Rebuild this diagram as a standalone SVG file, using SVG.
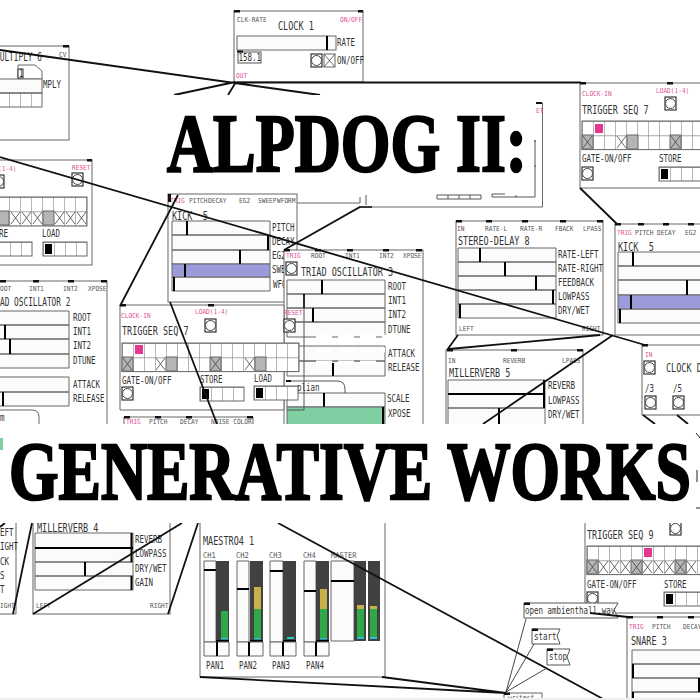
<svg xmlns="http://www.w3.org/2000/svg" width="700" height="700" viewBox="0 0 700 700">
<style>
text{font-family:"DejaVu Sans Mono","Liberation Mono",monospace;fill:#333;white-space:pre;transform-box:fill-box;transform-origin:0 50%}
.l{font-size:7px;fill:#555;transform:scaleX(.88)}
.p{font-size:7px;fill:#e0569a;transform:scaleX(.88)}
.a{font-size:10px;fill:#333;transform:scaleX(.75)}
.n{font-size:12px;fill:#333;transform:scaleX(.71)}
.nn{font-size:12px;fill:#333;transform:scaleX(.65)}
.box{fill:#fff;stroke:#666;stroke-width:1}
.s{fill:#fbfbfb;stroke:#666;stroke-width:1}
.h{fill:none;stroke:#000;stroke-width:2}
.io{fill:#111}
.c{fill:none;stroke:#111;stroke-width:1.8}
.x{fill:none;stroke:#444;stroke-width:.8}
.g{fill:#b5b5b5;stroke:#666}
.big{font-family:"Liberation Serif",serif;font-weight:bold;fill:#000;stroke:#000;stroke-width:2.4;transform:none}
</style>
<defs>
<g id="bang"><rect width="11" height="13" fill="#fff" stroke="#222" stroke-width="1.1"/><circle cx="5.5" cy="6.5" r="5" fill="#fff" stroke="#444"/></g>
<g id="tog"><rect width="11" height="13" fill="#fff" stroke="#666"/><path class="x" d="M0 0l11 13M11 0l-11 13"/></g>
<g id="xc"><path class="x" d="M1 1l9 12M10 1l-9 12"/></g>
<g id="gx"><rect width="11" height="14" class="g"/><path class="x" d="M1 1l9 12M10 1l-9 12"/></g>
<g id="gc"><rect width="11" height="14" class="g"/></g>
<pattern id="cells" width="11" height="14.3" patternUnits="userSpaceOnUse"><rect width="11" height="14.3" fill="#fff"/><path d="M0 0h11M0 0v14.3" fill="none" stroke="#888" stroke-width="1.2"/></pattern>
<g id="store"><rect width="44" height="14" fill="url(#cells)" stroke="#666"/><rect x="2" y="2" width="7" height="10" fill="#000"/></g>
</defs>

<g id="clock1">
<rect class="box" x="234" y="11" width="129" height="71"/>
<rect class="io" x="234" y="10" width="6" height="2.500"/><rect class="io" x="358" y="10" width="5" height="2.500"/>
<text class="l" x="237" y="22">CLK-RATE</text><text class="p" x="340" y="22">ON/OFF</text>
<text class="n" x="278" y="30">CLOCK 1</text>
<rect class="s" x="237" y="36" width="99" height="14"/><path class="h" d="M327 36v14"/>
<text class="a" x="337" y="46">RATE</text>
<rect x="238" y="52" width="23" height="11" fill="#fff" stroke="#555"/><rect class="io" x="237" y="50.500" width="6" height="2"/>
<text class="a" x="238.500" y="61">158.1</text>
<use href="#bang" x="311" y="54"/><use href="#tog" x="324" y="54"/>
<text class="a" x="337" y="64">ON/OFF</text>
<text class="p" x="236" y="78">OUT</text>
</g>

<g id="multiply6">
<rect class="box" x="-5" y="46" width="74" height="94"/>
<rect class="io" x="63" y="45" width="6" height="2.500"/>
<text class="nn" x="-5" y="61">MULTIPLY 6</text>
<text class="l" x="59" y="57">CV</text>
<path d="M18 65h17l7 6v8h-24z" fill="#fff" stroke="#666"/>
<rect x="18" y="69" width="5" height="9" fill="#fff" stroke="#333"/><text class="a" x="19" y="77">1</text>
<rect class="s" x="-5" y="79" width="47" height="14"/>
<text class="a" x="43" y="88">MPLY</text>
<g transform="translate(-2,93)"><rect width="44" height="14" fill="url(#cells)" stroke="#666"/></g>
</g>

<g id="triggerseq-left">
<rect class="box" x="-5" y="160" width="97" height="105"/>
<rect class="io" x="87" y="159" width="5" height="2.500"/>
<text class="p" x="-2" y="171">(1-4)</text><text class="p" x="72" y="170">RESET</text>
<use href="#bang" x="-7" y="175"/><use href="#bang" x="72" y="173"/>
<g transform="translate(-13,197)"><rect width="100" height="29" fill="url(#cells)" stroke="#666"/></g>
<use href="#gc" x="-2" y="211"/><use href="#xc" x="10" y="211"/><use href="#xc" x="21" y="211"/><use href="#xc" x="32" y="211"/>
<use href="#gc" x="43" y="211"/><use href="#xc" x="54" y="211"/><use href="#xc" x="65" y="211"/><use href="#xc" x="76" y="211"/>
<text class="a" x="-1" y="237">RE</text><text class="a" x="42" y="237">LOAD</text>
<use href="#store" x="-12" y="242"/><use href="#store" x="43" y="242"/>
</g>

<g id="triad2">
<rect class="box" x="-5" y="281" width="112" height="150"/>
<rect class="io" x="0" y="280" width="6" height="2.500"/><rect class="io" x="33" y="280" width="6" height="2.500"/><rect class="io" x="68" y="280" width="6" height="2.500"/><rect class="io" x="101" y="280" width="6" height="2.500"/>
<text class="l" x="0" y="291">OOT</text><text class="l" x="29" y="291">INT1</text><text class="l" x="63" y="291">INT2</text><text class="l" x="88" y="291">XPOSE</text>
<text class="nn" x="0" y="306">AD OSCILLATOR 2</text>
<path class="s" d="M-5 311h74v14h-74zM-5 325h74v14h-74zM-5 339h74v15h-74zM-5 354h74v14h-74zM-5 377h74v15h-74zM-5 392h74v14h-74z"/>
<path class="h" d="M5 325v14M10 339v15M3 392v14"/>
<text class="a" x="73" y="321">ROOT</text><text class="a" x="73" y="335">INT1</text><text class="a" x="73" y="349">INT2</text><text class="a" x="73" y="364">DTUNE</text>
<text class="a" x="73" y="388">ATTACK</text><text class="a" x="73" y="402">RELEASE</text>
<path d="M-5 410h37q7 0 7 7v14" fill="none" stroke="#666"/><text class="a" x="0" y="421">m</text>
</g>

<g id="stereodelay8">
<rect class="box" x="456" y="221" width="147" height="114"/>
<rect class="io" x="456" y="220" width="6" height="2.500"/><rect class="io" x="486" y="220" width="6" height="2.500"/><rect class="io" x="522" y="220" width="6" height="2.500"/><rect class="io" x="560" y="220" width="6" height="2.500"/><rect class="io" x="597" y="220" width="6" height="2.500"/>
<text class="l" x="457" y="231">IN</text><text class="l" x="485" y="231">RATE-L</text><text class="l" x="520" y="231">RATE-R</text><text class="l" x="555" y="231">FBACK</text><text class="l" x="583" y="231">LPASS</text>
<text class="n" x="458" y="245">STEREO-DELAY 8</text>
<path class="s" d="M458 248h98v14h-98zM458 262h98v14h-98zM458 276h98v14h-98zM458 290h98v14h-98zM458 304h98v14h-98z"/>
<path class="h" d="M480 248v14M505 262v14M536 276v14M553 290v14M460 304v14"/>
<text class="a" x="558" y="258">RATE-LEFT</text><text class="a" x="558" y="272">RATE-RIGHT</text><text class="a" x="558" y="286">FEEDBACK</text><text class="a" x="558" y="300">LOWPASS</text><text class="a" x="558" y="314">DRY/WET</text>
<text class="l" x="459" y="331">LEFT</text><text class="l" x="582" y="331">RIGHT</text>
</g>

<g id="triggerseq7-right">
<rect class="box" x="580" y="83" width="125" height="105"/>
<rect class="io" x="580" y="82" width="6" height="2.500"/><rect class="io" x="667" y="82" width="6" height="2.500"/>
<text class="p" x="582" y="96">CLOCK-IN</text><text class="p" x="656" y="93">LOAD(1-4)</text>
<use href="#bang" x="665" y="97"/>
<text class="n" x="582" y="114">TRIGGER SEQ 7</text>
<g transform="translate(582,121)"><rect width="130" height="28.600" fill="url(#cells)" stroke="#666"/></g>
<rect x="595" y="124" width="8" height="9" fill="#e5378f"/>
<use href="#gx" x="582" y="135"/><use href="#xc" x="616" y="135"/><use href="#gc" x="627" y="135"/><use href="#gx" x="670" y="135"/>
<text class="a" x="582" y="162">GATE-ON/OFF</text><text class="a" x="659" y="162">STORE</text>
<use href="#bang" x="582" y="167"/><use href="#store" x="659" y="167"/>
</g>

<g id="kick5-right">
<rect class="box" x="615" y="224" width="90" height="111"/>
<rect class="io" x="615" y="223" width="6" height="2.500"/><rect class="io" x="638" y="223" width="6" height="2.500"/><rect class="io" x="663" y="223" width="6" height="2.500"/><rect class="io" x="688" y="223" width="6" height="2.500"/>
<text class="p" x="617" y="235">TRIG</text><text class="l" x="635" y="235">PITCH</text><text class="l" x="657" y="235">DECAY</text><text class="l" x="685" y="235">EG2</text>
<text class="n" x="618" y="251">KICK  5</text>
<path class="s" d="M618 252h90v14h-90zM618 266h90v14h-90zM618 280h90v15h-90zM618 309h90v14h-90z"/>
<rect x="618" y="295" width="90" height="14" fill="#9b9bdc" stroke="#666"/>
<path class="h" d="M633 252v14M687 280v15M631 295v14M620 309v14"/>
</g>

<g id="millerverb5">
<rect class="box" x="446" y="350" width="137" height="80"/>
<rect class="io" x="447" y="349" width="6" height="2.500"/><rect class="io" x="511" y="349" width="6" height="2.500"/><rect class="io" x="577" y="349" width="6" height="2.500"/>
<text class="l" x="448" y="363">IN</text><text class="l" x="503" y="363">REVERB</text><text class="l" x="562" y="363">LPASS</text>
<text class="n" x="449" y="377">MILLERVERB 5</text>
<path class="s" d="M448 380h97v14h-97zM448 394h97v14h-97zM448 408h97v20h-97z"/>
<path class="h" d="M544 380v14M544 394v14M499 408v18M448 394h97"/>
<text class="a" x="548" y="389">REVERB</text><text class="a" x="548" y="404">LOWPASS</text><text class="a" x="548" y="418">DRY/WET</text>
</g>

<g id="clockdiv">
<rect class="box" x="642" y="345" width="70" height="70"/>
<rect class="io" x="642" y="344" width="6" height="2.500"/>
<text class="p" x="645" y="357">IN</text>
<use href="#bang" x="644" y="361"/>
<text class="n" x="666" y="372">CLOCK D</text>
<text class="a" x="645" y="392">/3</text><text class="a" x="673" y="392">/5</text>
<use href="#bang" x="645" y="396"/><use href="#bang" x="673" y="396"/>
</g>

<g id="kick5-center">
<rect class="box" x="168" y="194" width="129" height="108"/>
<rect class="io" x="168" y="194" width="3" height="8"/>
<text class="p" x="170" y="203">TRIG</text><text class="l" x="189" y="203">PITCH</text><text class="l" x="208" y="203">DECAY</text><text class="l" x="239" y="203">EG2</text><text class="l" x="258" y="203">SWEEP</text><text class="l" x="277" y="203">WFORM</text>
<text class="n" x="172" y="220">KICK  5</text>
<path class="s" d="M172 221h98v14h-98zM172 235h98v15h-98zM172 250h98v14h-98zM172 277h98v14h-98z"/>
<rect x="172" y="264" width="98" height="13" fill="#9b9bdc" stroke="#666"/>
<path class="h" d="M187 221v14M268 235v15M240 250v14M185 264v13M174 277v14"/>
<text class="a" x="272" y="231">PITCH</text><text class="a" x="272" y="245">DECAY</text><text class="a" x="272" y="259">EG2</text><text class="a" x="272" y="273">SWEEP</text><text class="a" x="273" y="288">WFORM</text>
</g>

<g id="triad3">
<rect class="box" x="284" y="250" width="139" height="180"/>
<rect class="io" x="284" y="249" width="6" height="2.500"/><rect class="io" x="315" y="249" width="6" height="2.500"/><rect class="io" x="347" y="249" width="6" height="2.500"/><rect class="io" x="383" y="249" width="6" height="2.500"/><rect class="io" x="416" y="249" width="6" height="2.500"/>
<text class="p" x="286" y="258">TRIG</text><text class="l" x="311" y="258">ROOT</text><text class="l" x="345" y="258">INT1</text><text class="l" x="379" y="258">INT2</text><text class="l" x="403" y="258">XPOSE</text>
<use href="#bang" x="286" y="262"/>
<text class="n" x="301" y="276">TRIAD OSCILLATOR 3</text>
<path class="s" d="M287 280h98v14h-98zM287 294h98v14h-98zM287 308h98v14h-98zM287 322h98v15h-98zM287 346h98v15h-98zM287 361h98v15h-98zM287 393h98v14h-98z"/>
<path class="h" d="M322 280v14M304 294v14M313 308v14M333 363v13M324 393v14"/>
<rect x="287" y="407" width="98" height="20" fill="#7fcfa3" stroke="#666"/><path class="h" d="M383 407v20"/>
<path fill="none" stroke="#555" d="M304 295v115h-17M287 381h50q8 0 8 8v4"/>
<rect class="io" x="286" y="380" width="5" height="2"/>
<text class="a" x="297" y="391">plian</text>
<path d="M316 337h69v5M316 350h69M316 363h60" fill="none" stroke="#fff" stroke-width="5" stroke-dasharray="16 6"/>
<text class="a" x="388" y="290">ROOT</text><text class="a" x="388" y="304">INT1</text><text class="a" x="388" y="318">INT2</text><text class="a" x="388" y="333">DTUNE</text>
<text class="a" x="388" y="357">ATTACK</text><text class="a" x="388" y="371">RELEASE</text>
<text class="a" x="387" y="402">SCALE</text><text class="a" x="388" y="417">XPOSE</text>
</g>

<g id="triggerseq7-center">
<path class="box" d="M120 305h164v105h-164z"/>
<rect class="io" x="120" y="304" width="6" height="2.500"/><rect class="io" x="208" y="304" width="6" height="2.500"/>
<text class="p" x="121" y="318">CLOCK-IN</text><text class="p" x="195" y="314">LOAD(1-4)</text><text class="p" x="284" y="315">RESET</text>
<use href="#bang" x="205" y="319"/><use href="#bang" x="284" y="319"/>
<text class="n" x="122" y="335">TRIGGER SEQ 7</text>
<g transform="translate(122,343)"><rect width="177" height="28.600" fill="url(#cells)" stroke="#666"/></g>
<rect x="135" y="345" width="8" height="9" fill="#e5378f"/>
<use href="#gx" x="122" y="357"/><use href="#xc" x="155" y="357"/><use href="#gc" x="166" y="357"/><use href="#gx" x="210" y="357"/><use href="#xc" x="244" y="357"/><use href="#gc" x="255" y="357"/>
<text class="a" x="122" y="384">GATE-ON/OFF</text><text class="a" x="200" y="383">STORE</text><text class="a" x="254" y="382">LOAD</text>
<use href="#bang" x="122" y="387"/>
<use href="#store" x="200" y="387"/><use href="#store" x="254" y="386"/>
</g>

<g id="noise-header">
<path class="box" d="M124 417h129v15h-129z"/>
<rect class="io" x="124" y="416" width="6" height="2.500"/><rect class="io" x="155" y="416" width="6" height="2.500"/><rect class="io" x="186" y="416" width="6" height="2.500"/><rect class="io" x="247" y="416" width="6" height="2.500"/>
<text class="p" x="126" y="424">TRIG</text><text class="l" x="149" y="424">PITCH</text><text class="l" x="180" y="424">DECAY</text><text class="l" x="211" y="424">NOISE COLOR</text>
</g>

<g id="stub-left">
<path d="M16 515v99h-20" fill="#fff" stroke="#666"/>
<text class="a" x="0" y="536">EFT</text><text class="a" x="0" y="550">IGHT</text><text class="a" x="0" y="565">CK</text><text class="a" x="0" y="579">S</text><text class="a" x="0" y="593">T</text>
<text class="l" x="0" y="608">IGHT</text>
</g>

<g id="millerverb4">
<rect class="box" x="33" y="510" width="137" height="104"/>
<text class="n" x="37" y="532">MILLERVERB 4</text>
<path class="s" d="M35 533h98v15h-98zM35 548h98v14h-98zM35 562h98v14h-98zM35 576h98v14h-98z"/>
<path class="h" d="M131.500 533v15M131.500 548v14M85 562v14M131.500 576v14M35 548h98"/>
<text class="a" x="135" y="543">REVERB</text><text class="a" x="135" y="557">LOWPASS</text><text class="a" x="135" y="572">DRY/WET</text><text class="a" x="135" y="586">GAIN</text>
<text class="l" x="36" y="608">LEFT</text><text class="l" x="150" y="608">RIGHT</text>
</g>

<g id="maestro4">
<rect class="box" x="200" y="510" width="185" height="167"/>
<text class="n" x="203" y="545">MAESTRO4 1</text>
<text class="l" x="203" y="558" style="font-size:8px">CH1</text><text class="l" x="236" y="558" style="font-size:8px">CH2</text><text class="l" x="269" y="558" style="font-size:8px">CH3</text><text class="l" x="303" y="558" style="font-size:8px">CH4</text><text class="l" x="331" y="558" style="font-size:8px">MASTER</text>
<path class="s" d="M204 561h12v81h-12zM237 561h12v81h-12zM270 561h13v81h-13zM304 561h12v81h-12zM331 561h23v80h-23z"/>
<path d="M216 561h13v81h-13zM250 561h13v81h-13zM283 561h13v81h-13zM316 561h13v81h-13zM354 561h12v80h-12zM368 561h12v80h-12z" fill="#414141"/>
<path class="h" d="M204 570h12M237 589h12M270 571h13M304 591h12M331 581h23"/>
<path d="M221 611h7v27h-7zM254 609h7v30h-7zM320 609h7v29h-7zM357 609h7v28h-7zM370 609h7v28h-7z" fill="#2fa84a"/>
<path d="M254 587h7v22h-7zM320 589h7v20h-7zM357 605h7v4h-7zM370 606h7v3h-7z" fill="#c8b04a"/>
<path d="M221 638h7v1.500h-7zM254 638h7v1.500h-7zM287 637h7v2h-7zM320 638h7v1.500h-7zM357 637h7v2h-7zM370 637h7v2h-7z" fill="#26c5d0"/>
<path d="M216 640h13v2h-13zM250 640h13v2h-13zM283 640h13v2h-13zM316 640h13v2h-13z" fill="#000"/>
<path class="s" d="M204 642h25v14h-25zM237 642h26v14h-26zM270 642h26v14h-26zM304 642h25v14h-25z"/>
<path class="h" d="M217 642v14M249 642v14M283 642v14M316 642v14"/>
<text class="a" x="206" y="669">PAN1</text><text class="a" x="239" y="669">PAN2</text><text class="a" x="272" y="669">PAN3</text><text class="a" x="306" y="669">PAN4</text>
</g>

<g id="triggerseq9">
<rect class="box" x="585" y="510" width="125" height="103"/>
<text class="n" x="587" y="539">TRIGGER SEQ 9</text>
<use href="#bang" x="670" y="522"/>
<g transform="translate(587,546)"><rect width="120" height="28.600" fill="url(#cells)" stroke="#666"/></g>
<rect x="644" y="548" width="8" height="9" fill="#e5378f"/>
<use href="#gx" x="587" y="560"/><use href="#xc" x="598" y="560"/><use href="#xc" x="609" y="560"/><use href="#xc" x="620" y="560"/><use href="#gx" x="631" y="560"/><use href="#xc" x="642" y="560"/><use href="#xc" x="653" y="560"/><use href="#xc" x="664" y="560"/><use href="#gx" x="675" y="560"/><use href="#xc" x="686" y="560"/>
<text class="a" x="587" y="588">GATE-ON/OFF</text><text class="a" x="664" y="588">STORE</text>
<use href="#bang" x="587" y="592"/><use href="#store" x="664" y="592"/>
</g>

<g id="snare3">
<rect class="box" x="627" y="617" width="80" height="90"/>
<rect class="io" x="627" y="616" width="6" height="2.500"/><rect class="io" x="657" y="616" width="6" height="2.500"/><rect class="io" x="688" y="616" width="6" height="2.500"/>
<text class="p" x="629" y="629">TRIG</text><text class="l" x="652" y="629">PITCH</text><text class="l" x="683" y="629">DECAY</text>
<text class="n" x="631" y="645">SNARE 3</text>
<path class="s" d="M632 650h75v14h-75zM632 664h75v14h-75zM632 678h75v14h-75zM632 692h75v14h-75z"/>
<path class="h" d="M633 664v14M699 678v14M633 692v8"/>
</g>

<g id="msg-open">
<path fill="#fff" stroke="#555" d="M524 603h94l-4 7 4 8h-94z"/><rect class="io" x="524" y="602.500" width="6" height="2.500"/>
<text class="a" x="525" y="614">open ambienthall.wav</text>
</g>
<g id="msg-start">
<path fill="#fff" stroke="#555" d="M532 629h28l-3 7 3 8h-28z"/><rect class="io" x="532" y="628.500" width="6" height="2.500"/>
<text class="a" x="534" y="640">start</text>
</g>
<g id="msg-stop">
<path fill="#fff" stroke="#555" d="M547 649h23l-3 8 3 8h-23z"/><rect class="io" x="547" y="648.500" width="6" height="2.500"/>
<text class="a" x="549" y="660">stop</text>
</g>
<g id="writesf">
<rect class="box" x="504" y="693" width="38" height="12"/><rect class="io" x="504" y="692.500" width="6" height="2.500"/>
<text class="l" x="508" y="700">writesf</text>
</g>

<g id="connectors">
<path class="c" d="M0 50L320 95M235 82L174 95M236 82L228 95M234 82.500H581M0 157L645 345"/>
<path class="c" d="M178 195L120 306M170 302L217 424M284 250L360 207H372M580 188L617 224"/>
<path class="c" d="M458 335L447 350M449 349L600 335M613 335L483 424M643 415L655 424M677 415L688 424"/>
<path class="c" d="M13 614L32 523M33 614L182 523M168 614L198 523M278 523L605 700M200 677L506 693M382 677L506 693M590 613L628 617M0 527L5 523"/>
<path d="M526 619L506 692M534 644L506 692M547 668L506 692" fill="none" stroke="#333" stroke-width=".9"/>
</g>

<g id="masks">
<rect x="165" y="95" width="370" height="98" fill="#fff"/>
<path d="M297 203H360" fill="none" stroke="#666"/>
<path d="M536 103h6.500v104H360" fill="none" stroke="#666"/><rect class="io" x="536" y="102" width="6" height="2"/>
<text class="p" x="536" y="113">ET</text>
<rect x="-1" y="424" width="702" height="99" fill="#fff"/>
<path d="M0 438h3v12h-3z" fill="#7fcfa3"/>
<path d="M696 433l4 5M697 470v12M696 508h4" fill="none" stroke="#222"/>
<path d="M535 140v2M535 165v2M535 140v57h-43v-3h13M481 195h-44v4h44zM448 195v4M459 195v4M470 195v4M516 195v2M366 195v10M360 197v6" fill="none" stroke="#444" stroke-width=".9"/>
<rect y="698" width="700" height="2" fill="#eee"/>
</g>

<g id="titles">
<text class="big" x="167" y="171" font-size="82" textLength="360" lengthAdjust="spacingAndGlyphs">ALPDOG II:</text>
<text class="big" x="9" y="499" font-size="82" textLength="682" lengthAdjust="spacingAndGlyphs">GENERATIVE WORKS</text>
</g>
</svg>
